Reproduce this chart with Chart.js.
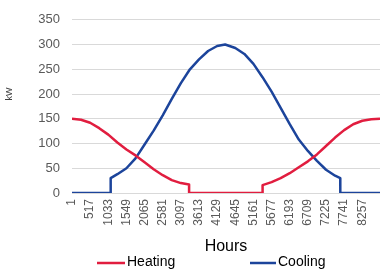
<!DOCTYPE html>
<html>
<head>
<meta charset="utf-8">
<script src="https://cdn.jsdelivr.net/npm/chart.js@4.4.1/dist/chart.umd.min.js"></script>
<style>
  html, body { margin: 0; padding: 0; background: #ffffff; }
  #wrap { width: 388px; height: 273px; position: relative; }
</style>
</head>
<body>
<div id="wrap"><canvas id="c" width="388" height="273"></canvas></div>
<script>
// ---- data ----
const tickValues = [1, 517, 1033, 1549, 2065, 2581, 3097, 3613, 4129, 4645, 5161, 5677, 6193, 6709, 7225, 7741, 8257];
const tickLabels = ["1", "517", "1033", "1549", "2065", "2581", "3097", "3613", "4129", "4645", "5161", "5677", "6193", "6709", "7225", "7741", "8257"];

const heatHours = [1, 258, 517, 775, 1033, 1291, 1549, 1807, 2065, 2323, 2581, 2839, 3097, 3330, 3331, 5420, 5421, 5677, 5935, 6193, 6451, 6709, 6967, 7225, 7483, 7741, 7999, 8257, 8515, 8760];
const heatKW    = [150, 148, 142, 131, 118, 102, 88, 76, 62, 48, 36, 26, 20, 17, 0, 0, 16, 22, 30, 40, 52, 64, 78, 95, 112, 127, 139, 146, 149, 150];

const coolHours = [1, 1100, 1101, 1291, 1549, 1807, 2065, 2323, 2581, 2839, 3097, 3355, 3613, 3871, 4129, 4355, 4645, 4903, 5161, 5419, 5677, 5935, 6193, 6451, 6709, 6967, 7225, 7483, 7630, 7631, 8760];
const coolKW    = [0, 0, 30, 38, 50, 70, 98, 126, 157, 190, 222, 250, 270, 287, 297, 300, 293, 281, 261, 234, 205, 172, 139, 108, 85, 65, 47, 35, 30, 0, 0];

const seriesNames = ["Heating", "Cooling"];
const yTitle = "kW";
const xTitle = "Hours";

const RED = '#e11d3f';
const BLUE = '#1c449b';
const BASE_FONT = "'Liberation Sans', Arial, sans-serif";

function pts(xs, ys) { return xs.map((x, i) => ({ x: x, y: ys[i] })); }

// custom legend + y title, drawn on the chart canvas
const extras = {
  id: 'extras',
  afterDraw(chart) {
    const ctx = chart.ctx;
    ctx.save();
    ctx.fillStyle = '#404040';
    ctx.font = "9px " + BASE_FONT;
    ctx.translate(10, 94);
    ctx.rotate(-Math.PI / 2);
    ctx.textAlign = 'center';
    ctx.textBaseline = 'middle';
    ctx.fillText(yTitle, 0, 0);
    ctx.restore();

    ctx.save();
    const items = [
      { x: 97, w: 28, ds: chart.data.datasets[0] },
      { x: 250, w: 26, ds: chart.data.datasets[1] }
    ];
    const ly = 263;
    ctx.font = "14px " + BASE_FONT;
    ctx.textBaseline = 'middle';
    ctx.textAlign = 'left';
    items.forEach(it => {
      ctx.strokeStyle = it.ds.borderColor;
      ctx.lineWidth = 2.5;
      ctx.beginPath();
      ctx.moveTo(it.x, ly);
      ctx.lineTo(it.x + it.w, ly);
      ctx.stroke();
      ctx.fillStyle = '#000000';
      ctx.fillText(it.ds.label, it.x + it.w + 2, ly - 1);
    });
    ctx.restore();
  }
};

new Chart(document.getElementById('c'), {
  type: 'line',
  data: {
    datasets: [
      { label: seriesNames[0], data: pts(heatHours, heatKW), borderColor: RED, backgroundColor: RED, borderWidth: 2.5, pointRadius: 0, tension: 0, borderJoinStyle: 'round', fill: false },
      { label: seriesNames[1], data: pts(coolHours, coolKW), borderColor: BLUE, backgroundColor: BLUE, borderWidth: 2.5, pointRadius: 0, tension: 0, borderJoinStyle: 'round', fill: false }
    ]
  },
  options: {
    responsive: false,
    animation: false,
    events: [],
    layout: { padding: { left: 0, right: 8, top: 14, bottom: 15 } },
    plugins: {
      legend: { display: false },
      tooltip: { enabled: false }
    },
    scales: {
      x: {
        type: 'linear',
        min: 1,
        max: 8760,
        afterBuildTicks(scale) { scale.ticks = tickValues.map(v => ({ value: v })); },
        afterFit(scale) { scale.height = 273 - 15 - 193; },
        grid: { display: false, drawTicks: false },
        border: { display: false },
        ticks: {
          autoSkip: false,
          minRotation: 90,
          maxRotation: 90,
          padding: 6,
          color: '#595959',
          font: { family: BASE_FONT, size: 12 },
          callback(v) { const i = tickValues.indexOf(v); return i >= 0 ? tickLabels[i] : ''; }
        },
        title: {
          display: true,
          text: xTitle,
          color: '#000000',
          font: { family: BASE_FONT, size: 16 },
          padding: { top: 0, bottom: 2 }
        }
      },
      y: {
        min: 0,
        max: 350,
        afterFit(scale) { scale.width = 72; },
        ticks: {
          stepSize: 50,
          padding: 12,
          color: '#595959',
          font: { family: BASE_FONT, size: 13 }
        },
        grid: { color: '#d9d9d9', lineWidth: 1, drawTicks: false },
        border: { display: false }
      }
    }
  },
  plugins: [extras]
});
</script>
</body>
</html>
